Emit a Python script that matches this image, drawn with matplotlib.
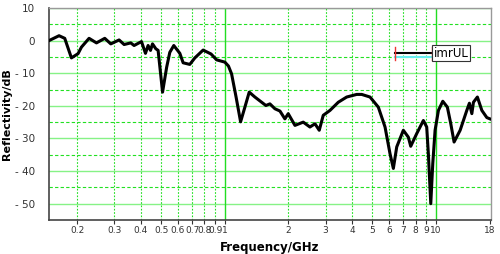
import numpy as np
import matplotlib
matplotlib.use("Agg")
import matplotlib.pyplot as plt
from matplotlib.lines import Line2D

# frequency (GHz) and reflectivity (dB)
freq = [0.147, 0.164, 0.1745, 0.1877, 0.2018, 0.2094, 0.2275, 0.2466, 0.270,
        0.2883, 0.3156, 0.3334, 0.3584, 0.3717, 0.4029, 0.4208, 0.4330, 0.4446,
        0.4543, 0.471, 0.483, 0.507, 0.530, 0.5486, 0.573, 0.612, 0.6345,
        0.682, 0.721, 0.789, 0.86, 0.914, 1.0, 1.04, 1.076, 1.13, 1.187, 1.244,
        1.304, 1.387, 1.564, 1.634, 1.726, 1.823, 1.924, 1.995, 2.147, 2.35,
        2.528, 2.671, 2.798, 2.923, 3.146, 3.443, 3.774, 4.21, 4.445, 4.867,
        5.328, 5.733, 6.053, 6.277, 6.512, 6.998, 7.39, 7.586, 8.10, 8.708,
        9.03, 9.194, 9.438, 9.647, 9.892, 10.26, 10.76, 11.31, 11.74, 12.17,
        13.0, 13.98, 14.38, 14.77, 15.03, 15.69, 16.47, 17.39, 18.0]
refl = [0.0, 1.5, 0.7, -5.3, -4.0, -2.0, 0.7, -0.7, 0.7,
        -1.0, 0.2, -1.2, -0.7, -1.5, -0.3, -3.9, -1.5, -3.0,
        -1.0, -2.5, -3.0, -15.8, -8.2, -3.6, -1.5, -3.9, -6.8,
        -7.3, -5.3, -2.9, -4.1, -5.9, -6.6, -7.8, -10.2, -17.3, -24.9, -20.4,
        -15.8, -17.3, -19.9, -19.4, -20.9, -21.6, -24.0, -22.4, -26.0, -25.0,
        -26.5, -25.5, -27.5, -22.9, -21.4, -18.9, -17.3, -16.5, -16.5, -17.3,
        -20.4, -26.5, -34.7, -39.2, -32.6, -27.5, -29.6, -32.4, -28.5, -24.5,
        -26.5, -34.7, -50.0, -37.7, -27.5, -21.4, -18.6, -20.4, -25.5, -31.1,
        -27.5, -21.4, -19.2, -22.4, -18.9, -17.3, -21.4, -23.6, -24.0]

xticks = [0.2, 0.3, 0.4, 0.5, 0.6, 0.7, 0.8, 0.9, 1, 2, 3, 4, 5, 6, 7, 8, 9, 10, 18]
xtick_labels = ["0.2", "0.3", "0.4", "0.5", "0.6", "0.7", "0.8", "0.9", "1",
                "2", "3", "4", "5", "6", "7", "8", "9", "10", "18"]
yticks = [10, 0, -10, -20, -30, -40, -50]
ytick_labels = ["10", "0", "- 10", "- 20", "- 30", "- 40", "- 50"]

fig = plt.figure(figsize=(5.0, 2.54), dpi=100)
ax = fig.add_axes([0.098, 0.134, 0.884, 0.8345])
ax.set_xscale("log")
ax.set_xlim(0.147, 18.2)
ax.set_ylim(-55, 10)

# grid
for yv in range(-50, 11, 10):
    ax.axhline(yv, color="#86f286", lw=1.0, zorder=1)
for yv in range(-45, 10, 10):
    ax.axhline(yv, color="#22e022", lw=0.8, ls=(0, (3, 2)), zorder=1)
for xv in xticks[:-1]:
    if xv in (1, 10):
        ax.axvline(xv, color="#22dd22", lw=1.0, zorder=1)
    else:
        ax.axvline(xv, color="#22e022", lw=0.8, ls=(0, (1.5, 1.5)), zorder=1)

ax.plot(freq, refl, color="black", lw=2.2, zorder=3, solid_joinstyle="round")

ax.set_xticks(xticks)
ax.set_xticklabels(xtick_labels)
ax.xaxis.set_minor_locator(matplotlib.ticker.NullLocator())
ax.set_yticks(yticks)
ax.set_yticklabels(ytick_labels)
ax.tick_params(axis="x", labelsize=6.5, length=3, pad=1.5, colors="#333333")
ax.tick_params(axis="y", labelsize=7.5, length=0, pad=10, colors="#333333")

ax.set_xlabel("Frequency/GHz", fontsize=8.5, fontweight="bold", labelpad=4)
ax.set_ylabel("Reflectivity/dB", fontsize=8, fontweight="bold", labelpad=2)

for s in ("left", "bottom"):
    ax.spines[s].set_color("#444444")
    ax.spines[s].set_linewidth(1.2)
for s in ("top", "right"):
    ax.spines[s].set_color("#999999")
    ax.spines[s].set_linewidth(1.0)

# legend drawn by hand like the original small box
lx0, lx1, ly = 0.783, 0.867, 0.786
ax.add_line(Line2D([lx0, lx1], [ly - 0.018, ly - 0.018], color="#66eeee", lw=1.5,
                   transform=ax.transAxes, zorder=5))
ax.add_line(Line2D([lx0, lx1], [ly, ly], color="black", lw=1.5,
                   transform=ax.transAxes, zorder=6))
for xe in (lx0, lx1):
    ax.add_line(Line2D([xe, xe], [ly - 0.03, ly + 0.03], color="#ee3333", lw=1.0,
                       transform=ax.transAxes, zorder=6))
ax.text(lx1 + 0.003, ly, "imrUL", transform=ax.transAxes, fontsize=8.5,
        va="center", ha="left", zorder=6,
        bbox=dict(boxstyle="square,pad=0.12", fc="white", ec="#333333", lw=0.8))

fig.savefig("out.png", dpi=100)
